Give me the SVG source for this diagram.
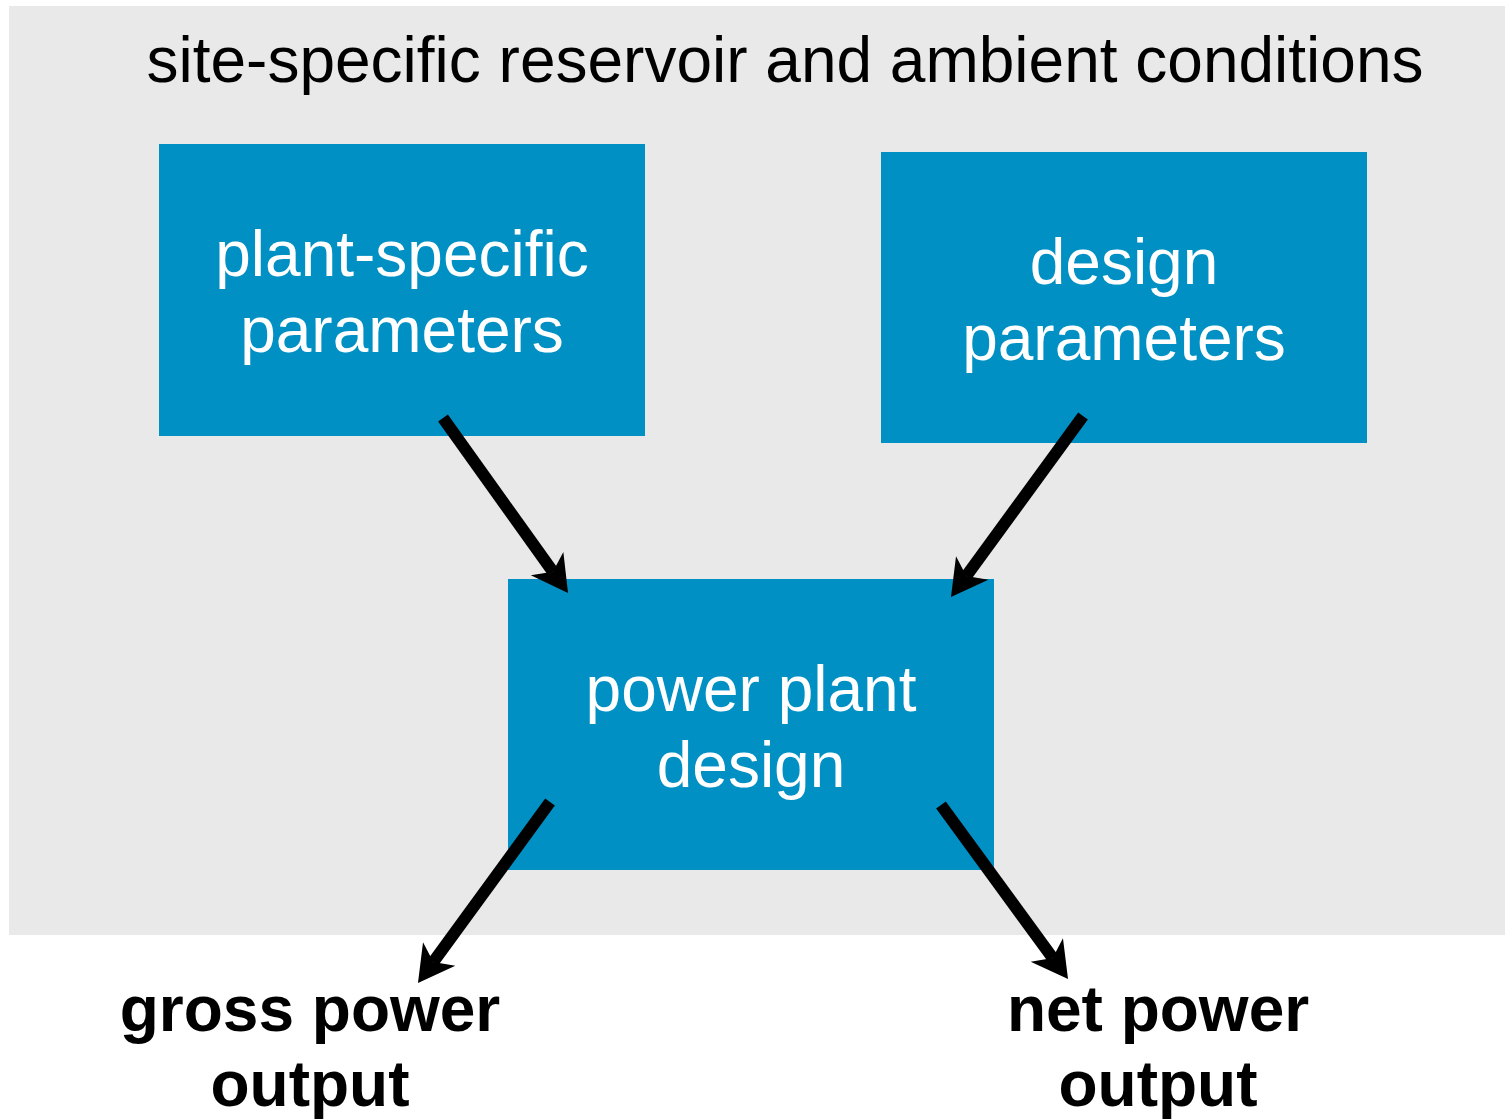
<svg xmlns="http://www.w3.org/2000/svg" width="1505" height="1120" viewBox="0 0 1505 1120">
<style>
.box{fill:#0090c4}
.bt{font-family:"Liberation Sans",Arial,sans-serif;font-size:64px;fill:#fff;text-anchor:middle}
.ot{font-family:"Liberation Sans",Arial,sans-serif;font-size:64px;font-weight:bold;fill:#000;text-anchor:middle}
.title{font-family:"Liberation Sans",Arial,sans-serif;font-size:64px;fill:#000;text-anchor:middle}
.arr{stroke:#000;stroke-width:12;fill:none;marker-end:url(#ah)}
</style>
<defs>
<marker id="ah" markerUnits="userSpaceOnUse" markerWidth="40" markerHeight="44" viewBox="0 -22 40 44" refX="10" refY="0" orient="auto">
<path d="M36,0 L0,-20 L10,0 L0,20 Z" fill="#000"/>
</marker>
</defs>
<rect width="1505" height="1120" fill="#fff"/>
<g id="background">
<rect x="9" y="6" width="1496" height="929" fill="#e9e9e9"/>
<text class="title" x="785" y="82">site-specific reservoir and ambient conditions</text>
</g>
<g id="plant-specific">
<rect class="box" x="159" y="144" width="486" height="292"/>
<text class="bt" x="402" y="276">plant-specific</text>
<text class="bt" x="402" y="352">parameters</text>
</g>
<g id="design-params">
<rect class="box" x="881" y="152" width="486" height="291"/>
<text class="bt" x="1124" y="284">design</text>
<text class="bt" x="1124" y="360">parameters</text>
</g>
<g id="power-plant">
<rect class="box" x="508" y="579" width="486" height="291"/>
<text class="bt" x="751" y="711">power plant</text>
<text class="bt" x="751" y="787">design</text>
</g>
<g id="gross">
<text class="ot" x="310" y="1031">gross power</text>
<text class="ot" x="310" y="1106">output</text>
</g>
<g id="net">
<text class="ot" x="1158" y="1031">net power</text>
<text class="ot" x="1158" y="1106">output</text>
</g>
<g id="connectors">
<line class="arr" x1="443" y1="418" x2="552.9" y2="571.8"/>
<line class="arr" x1="1083" y1="416" x2="966.3" y2="576"/>
<line class="arr" x1="550" y1="802" x2="433.3" y2="962"/>
<line class="arr" x1="941" y1="805" x2="1052.7" y2="958"/>
</g>
</svg>
